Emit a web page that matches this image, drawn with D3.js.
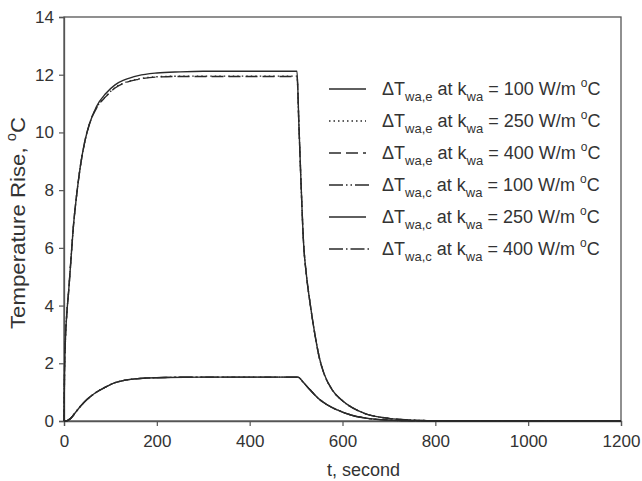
<!DOCTYPE html>
<html><head><meta charset="utf-8">
<script src="https://cdn.jsdelivr.net/npm/d3@7"></script>
<style>
body{margin:0;background:#fff;}
svg text{font-family:"Liberation Sans",Arial,sans-serif;fill:#333;}
</style></head><body>
<svg id="c" width="642" height="481"></svg>
<script>
// ---- data ----
const evapTime = [0,1,3,6,10,15,20,27,35,45,55,70,90,110,130,160,200,250,300,400,502,506,511,516,522,530,540,550,560,577,600,620,650,700,750,800,900,1000,1100,1200];
const evap100  = [0,1.5,2.8,3.7,4.5,5.6,6.7,7.8,8.8,9.7,10.3,10.9,11.35,11.65,11.82,11.97,12.06,12.1,12.12,12.12,12.12,10.3,8.1,6.2,5.1,4.1,3.05,2.2,1.65,1.1,0.7,0.47,0.25,0.09,0.03,0.01,0,0,0,0];
const evap250  = [0,1.5,2.8,3.7,4.5,5.6,6.7,7.8,8.8,9.7,10.3,10.85,11.25,11.55,11.72,11.85,11.93,11.95,11.95,11.95,11.95,10.3,8.1,6.2,5.1,4.1,3.05,2.2,1.65,1.1,0.7,0.47,0.25,0.09,0.03,0.01,0,0,0,0];
const evap400  = [0,1.5,2.8,3.7,4.5,5.6,6.7,7.8,8.8,9.7,10.3,10.84,11.24,11.54,11.71,11.84,11.92,11.94,11.94,11.94,11.94,10.3,8.1,6.2,5.1,4.1,3.05,2.2,1.65,1.1,0.7,0.47,0.25,0.09,0.03,0.01,0,0,0,0];
const condTime = [0,5,10,15,24,35,50,67,90,110,130,153,180,218,300,400,504,515,530,551,565,577,600,620,650,700,750,800,1200];
const cond100  = [0,0,0.04,0.1,0.28,0.5,0.75,0.97,1.18,1.33,1.41,1.46,1.49,1.51,1.52,1.52,1.52,1.35,1.08,0.74,0.58,0.47,0.31,0.2,0.1,0.03,0.01,0,0];
const cond250  = [0,0,0.04,0.1,0.28,0.5,0.75,0.97,1.18,1.33,1.41,1.46,1.49,1.51,1.52,1.52,1.52,1.35,1.08,0.74,0.58,0.47,0.31,0.2,0.1,0.03,0.01,0,0];
const cond400  = [0,0,0.04,0.1,0.28,0.5,0.75,0.97,1.18,1.33,1.41,1.46,1.49,1.51,1.52,1.52,1.52,1.35,1.08,0.74,0.58,0.47,0.31,0.2,0.1,0.03,0.01,0,0];
const xTicks = [0,200,400,600,800,1000,1200];
const yTicks = [0,2,4,6,8,10,12,14];
const legendSub = ["wa,e","wa,e","wa,e","wa,c","wa,c","wa,c"];
const legendK = ["100","250","400","100","250","400"];

const series = [
  {t:evapTime, v:evap250, dash:"1.5,3"},
  {t:evapTime, v:evap400, dash:"12,5"},
  {t:condTime, v:cond100, dash:"14,3,1.5,3,1.5,3"},
  {t:condTime, v:cond400, dash:"14,3,1.5,3"},
  {t:evapTime, v:evap100, dash:null},
  {t:condTime, v:cond250, dash:null}
];
const legendDash = [null,"1.5,3","12,5","14,3,1.5,3,1.5,3",null,"14,3,1.5,3"];

// ---- layout ----
const L=64,R=621,T=17,B=421;
const svg=d3.select("#c");
const x=d3.scaleLinear().domain([0,1200]).range([L,R]);
const y=d3.scaleLinear().domain([0,14]).range([B,T]);
const col="#2a2a2a";

svg.append("rect").attr("x",L).attr("y",T).attr("width",R-L).attr("height",B-T)
  .attr("fill","none").attr("stroke","#555").attr("stroke-width",1.3);

const ax=svg.append("g").attr("transform",`translate(0,${B})`)
  .call(d3.axisBottom(x).tickValues(xTicks).tickSize(5).tickPadding(9).tickFormat(d3.format("d")));
const ay=svg.append("g").attr("transform",`translate(${L},0)`)
  .call(d3.axisLeft(y).tickValues(yTicks).tickSize(5).tickPadding(5).tickFormat(d3.format("d")));
[ax,ay].forEach(g=>{
  g.select(".domain").attr("stroke","#555").attr("stroke-width",1.3);
  g.selectAll(".tick line").attr("stroke","#555").attr("stroke-width",1.2);
  g.selectAll(".tick text").attr("font-size",17).attr("fill","#333")
   .style("font-family","'Liberation Sans',Arial,sans-serif");
});

const line=d3.line().x(d=>x(d[0])).y(d=>y(d[1])).curve(d3.curveMonotoneX);
series.forEach(s=>{
  const pts=s.t.map((t,i)=>[t,s.v[i]]);
  svg.append("path").attr("d",line(pts)).attr("fill","none").attr("stroke",col)
    .attr("stroke-width",1.4).attr("stroke-dasharray",s.dash);
});

svg.append("text").attr("x",327).attr("y",476).attr("font-size",18).text("t, second");
const yt=svg.append("text").attr("transform","translate(25,223) rotate(-90) scale(1.06,1)")
  .attr("text-anchor","middle").attr("font-size",21);
yt.append("tspan").text("Temperature Rise, ");
yt.append("tspan").attr("font-size",14).attr("dy",-9).text("o");
yt.append("tspan").attr("dy",9).text("C");

legendSub.forEach((sub,i)=>{
  const cy=89+i*32;
  svg.append("line").attr("x1",329).attr("x2",legendDash[i]&&legendDash[i].length>6?372:366)
    .attr("y1",cy).attr("y2",cy).attr("stroke",col).attr("stroke-width",1.4)
    .attr("stroke-dasharray",legendDash[i]);
  const t=svg.append("text").attr("x",382).attr("y",cy+6).attr("font-size",18);
  t.append("tspan").text("\u0394T");
  t.append("tspan").attr("font-size",13).attr("dy",6).text(sub);
  t.append("tspan").attr("dy",-6).text(" at k");
  t.append("tspan").attr("font-size",13).attr("dy",6).text("wa");
  t.append("tspan").attr("dy",-6).text(` = ${legendK[i]} W/m `);
  t.append("tspan").attr("font-size",12).attr("dy",-8).text("o");
  t.append("tspan").attr("dy",8).text("C");
});
</script></body></html>
